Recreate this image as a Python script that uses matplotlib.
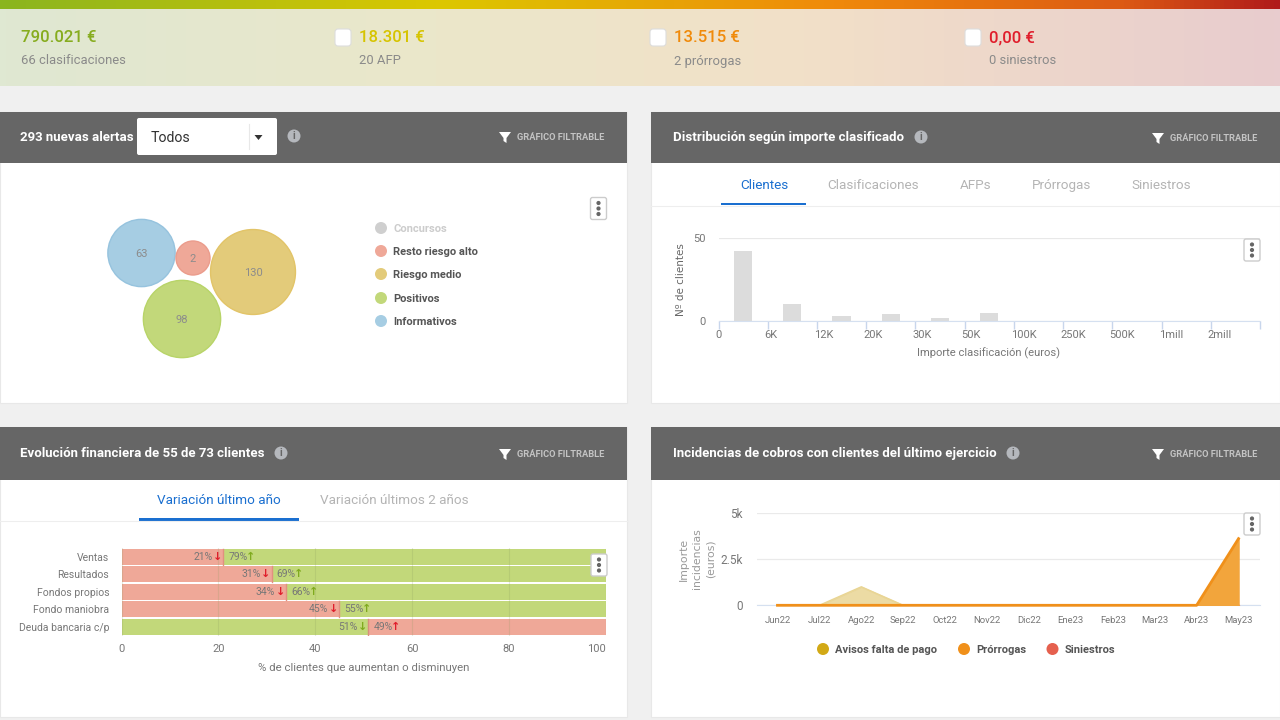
import numpy as np
import matplotlib
matplotlib.use('Agg')
import matplotlib.pyplot as plt
from matplotlib.colors import LinearSegmentedColormap
from matplotlib.patches import Rectangle, Circle, FancyBboxPatch, Polygon

plt.rcParams['font.family'] = ['Roboto', 'DejaVu Sans']

# KPI strip
kpi_values = ['790.021 €', '18.301 €', '13.515 €', '0,00 €']
kpi_labels = ['66 clasificaciones', '20 AFP', '2 prórrogas', '0 siniestros']

# alerts bubbles
alert_names = ['Informativos', 'Resto riesgo alto', 'Riesgo medio', 'Positivos']
alert_values = [63, 2, 130, 98]
legend_names = ['Concursos', 'Resto riesgo alto', 'Riesgo medio', 'Positivos', 'Informativos']

# distribution histogram
hist_labels = ['0', '6K', '12K', '20K', '30K', '50K', '100K', '250K', '500K', '1mill', '2mill']
hist_values = [42, 10, 3, 4, 2, 5, 0, 0, 0, 0, 0]
dist_tabs = ['Clientes', 'Clasificaciones', 'AFPs', 'Prórrogas', 'Siniestros']

# financial evolution
fin_names = ['Ventas', 'Resultados', 'Fondos propios', 'Fondo maniobra', 'Deuda bancaria c/p']
fin_left = [21, 31, 34, 45, 51]
fin_right = [79, 69, 66, 55, 49]

# incidents
months = ['Jun22', 'Jul22', 'Ago22', 'Sep22', 'Oct22', 'Nov22', 'Dic22', 'Ene23', 'Feb23', 'Mar23', 'Abr23', 'May23']
avisos = [0, 0, 1000, 0, 0, 0, 0, 0, 0, 0, 0, 0]
prorrogas = [0, 0, 0, 0, 0, 0, 0, 0, 0, 0, 0, 3600]
siniestros = [0, 0, 0, 0, 0, 0, 0, 0, 0, 0, 0, 0]

RED = '#efa898'
GREEN = '#c2d87a'
YELLOW = '#e3cb7a'
BLUE_B = '#a6cde3'
TICK = '#777777'
DARK = '#555555'
TAB_BLUE = '#1a6fd0'


def px_axes(x0, y0, x1, y1, zorder=2):
    # axes placed by pixel box, y measured from the top
    ax = fig.add_axes([x0 / 1280, 1 - y1 / 720, (x1 - x0) / 1280, (y1 - y0) / 720], zorder=zorder)
    ax.patch.set_alpha(0)
    return ax


def kebab(x, y):
    top.add_patch(FancyBboxPatch((x - 8, y - 11), 16, 22, boxstyle='round,pad=0,rounding_size=2',
                                 fc='white', ec='#cccccc', lw=1))
    for dy in (-5.5, 0, 5.5):
        top.add_patch(Circle((x, y + dy), 2.1, fc='#666666', ec='none'))


def info(x, y):
    top.add_patch(Circle((x, y), 6.5, fc='#b5b8bd', ec='none'))
    top.text(x, y + 0.3, 'i', color='#666666', fontsize=7.5, fontweight='bold', ha='center', va='center')


def filtrable(x, y):
    top.add_patch(Polygon([(x, y - 5), (x + 12, y - 5), (x + 7.5, y + 1), (x + 7.5, y + 6),
                           (x + 4.5, y + 4), (x + 4.5, y + 1)], fc='white', ec='none'))
    top.text(x + 18, y + 0.5, 'GRÁFICO FILTRABLE', color='#c4c4c4', fontsize=6.7, fontweight='bold', va='center')


def panel(x0, y0, x1, y1, head):
    bg.add_patch(Rectangle((x0, y0), x1 - x0, y1 - y0, fc='white', ec='#e8e8e8', lw=0.8))
    bg.add_patch(Rectangle((x0, y0), x1 - x0, head, fc='#666666', ec='none'))


fig = plt.figure(figsize=(12.8, 7.2), dpi=100, facecolor='#f0f0f0')

bg = px_axes(0, 0, 1280, 720, zorder=0)
bg.set_xlim(0, 1280)
bg.set_ylim(720, 0)
bg.axis('off')

top = px_axes(0, 0, 1280, 720, zorder=10)
top.set_xlim(0, 1280)
top.set_ylim(720, 0)
top.axis('off')

# gradient strips
bar_cmap = LinearSegmentedColormap.from_list('bar', [(0, '#8ab51f'), (0.34, '#dcc800'), (0.65, '#f08a0a'), (0.88, '#dc5a14'), (1, '#b01a1a')])
pale_cmap = LinearSegmentedColormap.from_list('pale', [(0, '#dfe8d2'), (0.34, '#ebe7ca'), (0.63, '#f2e0c8'), (1, '#e8ccce')])
ramp = np.linspace(0, 1, 640).reshape(1, -1)
bg.imshow(ramp, cmap=bar_cmap, extent=(0, 1280, 9, 0), aspect='auto')
bg.imshow(ramp, cmap=pale_cmap, extent=(0, 1280, 86, 9), aspect='auto')
bg.set_xlim(0, 1280)
bg.set_ylim(720, 0)

kpi_x = [21, 359, 674, 989]
kpi_colors = ['#86ac1e', '#d6c400', '#f08a0a', '#e01e2c']
for i in range(4):
    top.text(kpi_x[i], 37.5, kpi_values[i], color=kpi_colors[i], fontsize=12.1, fontweight='medium', va='center')
    top.text(kpi_x[i], 61, kpi_labels[i], color='#8a8a8a', fontsize=9.4, va='center')
    if i > 0:
        top.add_patch(FancyBboxPatch((kpi_x[i] - 24, 29), 16, 17, boxstyle='round,pad=0,rounding_size=3',
                                     fc='white', ec='#dddddd', lw=0.8))

panel(0, 112, 627, 403, 51)
panel(651, 112, 1280, 403, 51)
panel(0, 427, 627, 717, 53)
panel(651, 427, 1280, 717, 53)

# headers
top.text(20, 137.5, '293 nuevas alertas', color='white', fontsize=9.5, fontweight='bold', va='center')
top.add_patch(FancyBboxPatch((137, 118), 140, 37, boxstyle='round,pad=0,rounding_size=2', fc='white', ec='none'))
top.text(151, 137.5, 'Todos', color='#333333', fontsize=10.2, va='center')
top.plot([248.5, 248.5], [124, 149], color='#e8e8e8', lw=0.8)
top.add_patch(Polygon([(254.5, 135), (262.5, 135), (258.5, 140)], fc='#333333', ec='none'))
info(294, 136)
filtrable(499, 137)

top.text(673, 138, 'Distribución según importe clasificado', color='white', fontsize=9.5, fontweight='bold', va='center')
info(921, 137)
filtrable(1152, 138)

top.text(20, 453.5, 'Evolución financiera de 55 de 73 clientes', color='white', fontsize=9.5, fontweight='bold', va='center')
info(281, 453)
filtrable(499, 454)

top.text(673, 453.5, 'Incidencias de cobros con clientes del último ejercicio', color='white', fontsize=9.5, fontweight='bold', va='center')
info(1013, 453)
filtrable(1152, 454)

# bubble chart, radius follows the alert count
ax = px_axes(0, 163, 627, 403)
ax.set_xlim(0, 627)
ax.set_ylim(403, 163)
ax.axis('off')
bubble_xy = [(141.5, 253), (193, 258), (253, 272), (182, 319)]
bubble_colors = [BLUE_B, RED, YELLOW, GREEN]
bubble_edges = ['#96c3de', '#eb9c8c', '#e2c468', '#b8d468']
for i in range(len(alert_values)):
    r = 13.4 + 2.55 * np.sqrt(alert_values[i])
    ax.add_patch(Circle(bubble_xy[i], r, fc=bubble_colors[i], ec=bubble_edges[i], lw=1))
    ax.text(bubble_xy[i][0], bubble_xy[i][1] + 1, str(alert_values[i]), color='#8c8c8c', fontsize=8, ha='center', va='center')

legend_y = [228, 251, 274, 298, 321]
legend_colors = ['#cfcfcf', RED, YELLOW, GREEN, BLUE_B]
for i in range(5):
    top.add_patch(Circle((381, legend_y[i]), 6, fc=legend_colors[i], ec='none'))
    top.text(393, legend_y[i] + 1, legend_names[i], color='#cccccc' if i == 0 else DARK, fontsize=8, fontweight='bold', va='center')
kebab(598.5, 208.5)

# tabs distribution
tab_x = [764, 873.5, 975.5, 1061.5, 1161.5]
for i in range(5):
    top.text(tab_x[i], 189, dist_tabs[i], color=TAB_BLUE if i == 0 else '#b4b4b4', fontsize=9.7, ha='center', va='baseline')
top.add_patch(Rectangle((721, 202.5), 85, 2.5, fc=TAB_BLUE, ec='none'))
top.plot([651, 1280], [205.5, 205.5], color='#eeeeee', lw=0.8)

# histogram
ax = px_axes(718.5, 238, 1260, 321)
ax.bar(np.arange(11) + 0.5, hist_values, width=0.37, color='#dcdcdc', zorder=2)
ax.set_xlim(0, 11)
ax.set_ylim(0, 50)
ax.set_yticks([0, 50])
ax.set_xticks(np.arange(12))
ax.set_xticklabels([''] * 12)
# labels sit at the left of each bin, slightly before the tick
for i in range(len(hist_labels)):
    ax.annotate(hist_labels[i], (i, 0), xytext=(-3, -14), textcoords='offset pixels', ha='left', va='center',
                color=TICK, fontsize=8, annotation_clip=False)
ax.tick_params(axis='x', length=6, width=1, color='#c8d6ec', direction='out')
ax.tick_params(axis='y', length=0, labelcolor=TICK, labelsize=8, pad=9)
ax.grid(axis='y', color='#e8e8e8', lw=0.9)
ax.set_axisbelow(True)
for s in ['top', 'left', 'right']:
    ax.spines[s].set_visible(False)
ax.spines['bottom'].set_color('#d5e0f0')
top.text(989, 353, 'Importe clasificación (euros)', color=TICK, fontsize=8.1, ha='center', va='center')
top.text(681, 280, 'Nº de clientes', color='#666666', fontsize=7.5, family='DejaVu Sans', rotation=90, ha='center', va='center')
kebab(1252, 250)

# tabs financial
top.text(218.5, 500.5, 'Variación último año', color=TAB_BLUE, fontsize=9.7, ha='center', va='center')
top.text(394, 500.5, 'Variación últimos 2 años', color='#b4b4b4', fontsize=9.7, ha='center', va='center')
top.add_patch(Rectangle((139, 517.5), 160, 3, fc=TAB_BLUE, ec='none'))
top.plot([0, 627], [520.5, 520.5], color='#eeeeee', lw=0.8)

# stacked bars
ax = px_axes(121.7, 548, 605.6, 635.5)
y = np.arange(5)
for i in y:
    left_col = RED if i < 4 else GREEN
    right_col = GREEN if i < 4 else RED
    ax.barh(i, fin_left[i], height=0.93, color=left_col, zorder=1)
    ax.barh(i, fin_right[i], left=fin_left[i], height=0.93, color=right_col, zorder=1)
    ax.plot([fin_left[i], fin_left[i]], [i - 0.46, i + 0.46], color='#e28f80' if i < 4 else '#d8907c', lw=1, zorder=3)
    arrow_l = '#e01e2c' if i < 4 else '#7faa1e'
    arrow_r = '#7faa1e' if i < 4 else '#e01e2c'
    ax.annotate(f'{fin_left[i]}%', (fin_left[i], i), xytext=(-11, 0), textcoords='offset pixels', ha='right', va='center',
                fontsize=7.5, color='#777777', zorder=4)
    ax.annotate('↓', (fin_left[i], i), xytext=(-6, 0), textcoords='offset pixels', ha='center', va='center',
                fontsize=8, fontweight='bold', color=arrow_l, family=['DejaVu Sans'], zorder=4)
    ax.annotate(f'{fin_right[i]}%', (fin_left[i], i), xytext=(5, 0), textcoords='offset pixels', ha='left', va='center',
                fontsize=7.5, color='#777777', zorder=4)
    ax.annotate('↑', (fin_left[i], i), xytext=(27, 0), textcoords='offset pixels', ha='center', va='center',
                fontsize=8, fontweight='bold', color=arrow_r, family=['DejaVu Sans'], zorder=4)
ax.set_xlim(0, 100)
ax.set_ylim(4.5, -0.5)
ax.set_yticks(y)
ax.set_yticklabels(fin_names, color=TICK, fontsize=7.5)
ax.set_xticks([0, 20, 40, 60, 80, 100])
ax.set_xticklabels(['0', '20', '40', '60', '80', '100'], color=TICK, fontsize=8)
ax.get_xticklabels()[-1].set_ha('right')
ax.tick_params(length=0)
ax.tick_params(axis='x', pad=6)
ax.tick_params(axis='y', pad=9)
ax.grid(axis='x', color='#8a9a60', alpha=0.2, lw=0.8, zorder=2)
for s in ax.spines.values():
    s.set_visible(False)
top.text(364, 668, '% de clientes que aumentan o disminuyen', color=TICK, fontsize=8.2, ha='center', va='center')
kebab(599, 565)

# area chart
ax = px_axes(756.5, 512.7, 1259.5, 605.3)
x = np.arange(12)
ax.fill_between(x, avisos, color='#e9d594', alpha=0.85, zorder=2)
ax.plot(x, avisos, color='#e9d594', lw=1, zorder=2)
ax.fill_between(x, siniestros, color='#e8604c', alpha=0.6, zorder=3)
ax.fill_between(x, prorrogas, color='#f2a53c', zorder=4)
ax.plot(x, prorrogas, color='#f0901a', lw=2, zorder=5, clip_on=False)
ax.set_xlim(-0.5, 11.5)
ax.set_ylim(0, 5000)
ax.set_yticks([0, 2500, 5000])
ax.set_yticklabels(['0', '2.5k', '5k'], color=TICK, fontsize=8.5)
ax.set_xticks(x)
ax.set_xticklabels(months, color=TICK, fontsize=6.8)
ax.tick_params(length=0)
ax.tick_params(axis='x', pad=8)
ax.tick_params(axis='y', pad=10)
ax.grid(axis='y', color='#eaeaea', lw=0.9)
ax.set_axisbelow(True)
for s in ['top', 'left', 'right']:
    ax.spines[s].set_visible(False)
ax.spines['bottom'].set_color('#d5e0f0')
top.text(697, 559, 'Importe\nincidencias\n(euros)', color='#999999', fontsize=7.8, family='DejaVu Sans', rotation=90,
         ha='center', va='center', linespacing=1.45, multialignment='center')
kebab(1252, 524)

area_legend = ['Avisos falta de pago', 'Prórrogas', 'Siniestros']
area_dot_x = [823, 964, 1052.5]
area_colors = ['#d2a916', '#f0901a', '#e5604e']
for i in range(3):
    top.add_patch(Circle((area_dot_x[i], 649), 6, fc=area_colors[i], ec='none'))
    top.text(area_dot_x[i] + 12, 650, area_legend[i], color=DARK, fontsize=8.0, fontweight='bold', va='center')

fig.savefig('out.png', dpi=100)
